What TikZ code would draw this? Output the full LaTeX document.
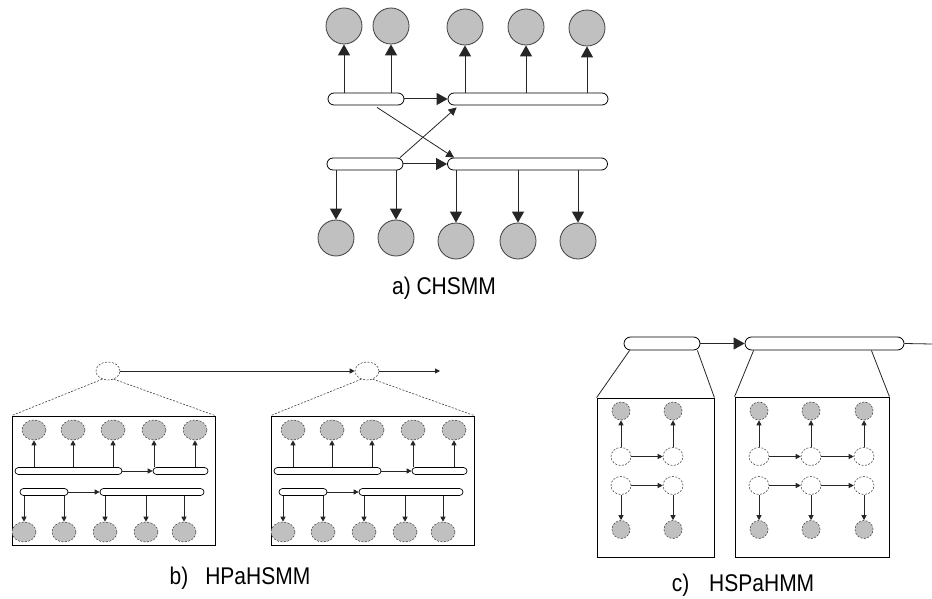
\documentclass[tikz,border=0pt]{standalone}
\usepackage{fontspec}
\setmainfont{Liberation Sans}
\usetikzlibrary{arrows.meta,shapes.geometric,calc}
\definecolor{obsgrey}{HTML}{C0C0C0}
\begin{document}
\begin{tikzpicture}[x=1pt,y=-1pt,
  obs/.style={circle,draw=black!75,fill=obsgrey,line width=0.8pt,minimum size=36pt,inner sep=0pt},
  bar/.style={rectangle,rounded corners=6pt,draw=black,fill=white,line width=0.8pt,minimum height=12pt,inner sep=0pt},
  sbar/.style={rectangle,rounded corners=3.5pt,draw=black,fill=white,line width=0.7pt,minimum height=7pt,inner sep=0pt},
  sobs/.style={ellipse,draw=black!70,fill=obsgrey,line width=0.6pt,dash pattern=on 2pt off 1.5pt,minimum width=24pt,minimum height=20pt,inner sep=0pt},
  hid/.style={ellipse,draw=black!70,fill=white,line width=0.6pt,dash pattern=on 2pt off 1.5pt,minimum width=24pt,minimum height=18pt,inner sep=0pt},
  cobs/.style={ellipse,draw=black!70,fill=obsgrey,line width=0.6pt,dash pattern=on 2pt off 1.5pt,minimum width=18pt,minimum height=18pt,inner sep=0pt},
  chid/.style={ellipse,draw=black!70,fill=white,line width=0.6pt,dash pattern=on 2pt off 1.5pt,minimum width=20pt,minimum height=18pt,inner sep=0pt},
  box/.style={rectangle,draw=black,line width=0.8pt,inner sep=0pt},
  bigarrow/.style={draw=black!85,line width=1pt,-{Triangle[length=11pt,width=12pt]}},
  midarrow/.style={draw=black!85,line width=0.8pt,-{Triangle[length=8pt,width=8pt]}},
  smallarrow/.style={draw=black!85,line width=0.8pt,-{Triangle[length=5pt,width=5pt]}},
  plain/.style={draw=black!85,line width=0.8pt},
  dashline/.style={draw=black!75,line width=0.6pt,dash pattern=on 2pt off 1.5pt},
  lab/.style={inner sep=0pt,font=\fontsize{21}{25}\selectfont}]

\fill[white] (0,0) rectangle (932,599);
\useasboundingbox (0,0) rectangle (932,599);

% ---------- a) CHSMM ----------
\node[obs] (t1) at (344,26) {};
\node[obs] (t2) at (391,26) {};
\node[obs] (t3) at (465,27) {};
\node[obs] (t4) at (526,27) {};
\node[obs] (t5) at (587,28) {};
\node[bar,minimum width=76pt]  (A1) at (366,99) {};
\node[bar,minimum width=160pt] (A2) at (528,99) {};
\node[bar,minimum width=76pt]  (B1) at (365,164) {};
\node[bar,minimum width=160pt] (B2) at (527.5,164) {};
\node[obs] (u1) at (336,238) {};
\node[obs] (u2) at (396,238) {};
\node[obs] (u3) at (456,241) {};
\node[obs] (u4) at (518,241) {};
\node[obs] (u5) at (578,241) {};

\foreach \c in {t1,t2} \draw[bigarrow] (\c |- A1.north) -- (\c.south);
\foreach \c in {t3,t4,t5} \draw[bigarrow] (\c |- A2.north) -- (\c.south);
\foreach \c in {u1,u2} \draw[bigarrow] (\c |- B1.south) -- (\c.north);
\foreach \c in {u3,u4,u5} \draw[bigarrow] (\c |- B2.south) -- (\c.north);
\draw[bigarrow] (A1.east) -- (A2.west);
\draw[bigarrow] (B1.east) -- (B2.west);
\draw[midarrow] ($(A1.south)+(11,2)$) -- ($(B2.north west)+(7,0)$);
\draw[midarrow] ($(B1.north)+(35,0)$) -- ($(A2.south west)+(9,2)$);

\node[lab] (la) at (444,288) {\scalebox{1}[1.15]{a) CHSMM}};

% ---------- b) HPaHSMM ----------
\foreach \s/\p in {12/L,271/R}{
  \begin{scope}[shift={(\s,0)}]
    \node[box,minimum width=203pt,minimum height=129pt] (\p box) at (101.5,480.5) {};
    \node[hid] (\p top) at (96,371) {};
    \draw[dashline] (\p top.235) -- (\p box.north west);
    \draw[dashline] (\p top.305) -- (\p box.north east);
    \node[sobs] (\p t1) at (22,430) {};
    \node[sobs] (\p t2) at (61,430) {};
    \node[sobs] (\p t3) at (101,430) {};
    \node[sobs] (\p t4) at (142,430) {};
    \node[sobs] (\p t5) at (183,430) {};
    \node[sbar,minimum width=107pt] (\p b1) at (56.5,471) {};
    \node[sbar,minimum width=55pt]  (\p b2) at (168.5,471) {};
    \node[sbar,minimum width=48pt]  (\p b3) at (32,492) {};
    \node[sbar,minimum width=104pt] (\p b4) at (140,492) {};
    \node[sobs] (\p u1) at (12,532) {};
    \node[sobs] (\p u2) at (52,532) {};
    \node[sobs] (\p u3) at (93,532) {};
    \node[sobs] (\p u4) at (134,532) {};
    \node[sobs] (\p u5) at (172,532) {};
    \foreach \c in {t1,t2,t3} \draw[smallarrow] (\p\c |- \p b1.north) -- (\p\c.south);
    \foreach \c in {t4,t5} \draw[smallarrow] (\p\c |- \p b2.north) -- (\p\c.south);
    \foreach \c in {u1,u2} \draw[smallarrow] (\p\c |- \p b3.south) -- (\p\c.north);
    \foreach \c in {u3,u4,u5} \draw[smallarrow] (\p\c |- \p b4.south) -- (\p\c.north);
    \draw[smallarrow] (\p b1.east) -- (\p b2.west);
    \draw[smallarrow] (\p b3.east) -- (\p b4.west);
  \end{scope}
}
\coordinate (Rend) at (440,371);
\draw[smallarrow] (Ltop.east) -- (Rtop.west);
\draw[smallarrow] (Rtop.east) -- (Rend);

\node[lab] (lb) at (240,578) {\scalebox{1}[1.15]{b)\hspace{17pt}HPaHSMM}};

% ---------- c) HSPaHMM ----------
\node[bar,minimum width=76pt,minimum height=13pt,rounded corners=6.5pt]  (C1) at (662,343.5) {};
\node[bar,minimum width=159pt,minimum height=13pt,rounded corners=6.5pt] (C2) at (824.5,343.5) {};
\coordinate (Cend) at (932,344);
\draw[bigarrow] (C1.east) -- (C2.west);
\draw[plain] (C2.east) -- (Cend);
\node[box,minimum width=117pt,minimum height=159pt] (K1) at (655.5,477.5) {};
\node[box,minimum width=154pt,minimum height=160pt] (K2) at (812,477) {};
\draw[plain] ($(C1.south west)+(6,0)$) -- (K1.north west);
\draw[plain] ($(C1.south east)+(-3,0)$) -- (K1.north east);
\draw[plain] ($(C2.south west)+(9,0)$) -- (K2.north west);
\draw[plain] ($(C2.south east)+(-33,0)$) -- (K2.north east);

\foreach \x/\n in {621/a,673/b,759/c,811/d,864/e}{
  \node[cobs] (g1\n) at (\x,411) {};
  \node[chid] (w1\n) at (\x,456.5) {};
  \node[chid] (w2\n) at (\x,485.5) {};
  \node[cobs] (g2\n) at (\x,529.5) {};
  \draw[smallarrow] (w1\n.north) -- (g1\n.south);
  \draw[smallarrow] (w2\n.south) -- (g2\n.north);
}
\foreach \a/\b in {a/b,c/d,d/e}{
  \draw[smallarrow] (w1\a.east) -- (w1\b.west);
  \draw[smallarrow] (w2\a.east) -- (w2\b.west);
}

\node[lab] (lc) at (743,585) {\scalebox{1}[1.15]{c)\hspace{20pt}HSPaHMM}};
\end{tikzpicture}
\end{document}
